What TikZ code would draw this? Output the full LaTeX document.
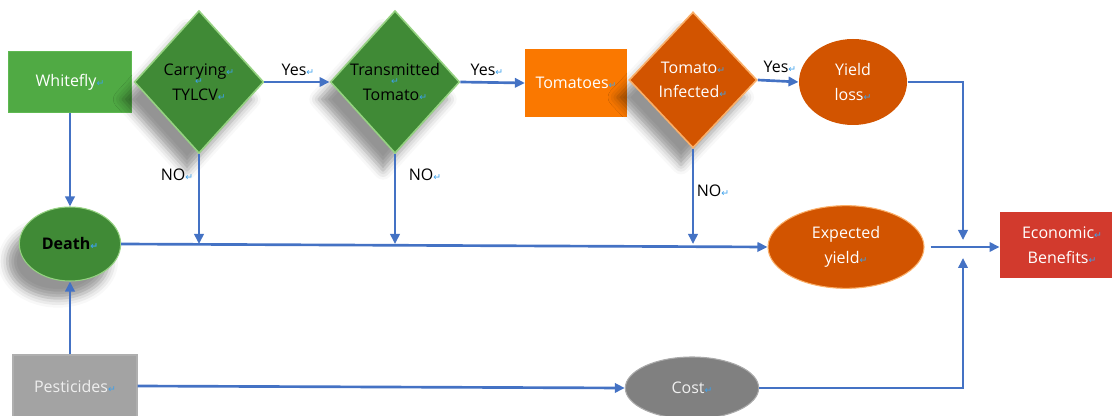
\documentclass[tikz,border=0pt]{standalone}
\usepackage{fontspec}
\setmainfont{Open Sans}
\newfontfamily\markfont{DejaVu Sans}
\usetikzlibrary{shapes.geometric,arrows.meta,shadows.blur}

\definecolor{leafgreen}{RGB}{80,170,68}
\definecolor{darkgreen}{RGB}{64,138,54}
\definecolor{bevelgreen}{RGB}{150,210,130}
\definecolor{brightorange}{RGB}{250,120,0}
\definecolor{burntorange}{RGB}{210,84,0}
\definecolor{bevelorange}{RGB}{250,175,105}
\definecolor{pestgray}{RGB}{163,163,163}
\definecolor{costgray}{RGB}{128,128,128}
\definecolor{benefitred}{RGB}{210,58,45}
\definecolor{linkblue}{RGB}{68,114,196}
\definecolor{markblue}{RGB}{60,160,235}

\newcommand{\pmark}{{\markfont\fontsize{7}{7}\selectfont\color{markblue}↵}}

\tikzset{every picture/.style={line width=0.75pt}}
\tikzset{
  txt/.style={font=\fontsize{12}{18.5}\selectfont, align=center, inner sep=0pt},
  flatbox/.style={txt, rectangle, text=white},
  softshadow/.style={blur shadow={shadow xshift=-9pt, shadow yshift=-13pt, shadow blur radius=7pt, shadow opacity=42}},
  decision/.style={txt, diamond, line width=1.2pt, softshadow},
  oval/.style={txt, ellipse},
  answer/.style={txt, text=black},
  link/.style={draw=linkblue, line width=2pt, -{Triangle[length=7.5pt,width=7pt]}}
}

\begin{document}
\begin{tikzpicture}[x=0.75pt,y=0.75pt,yscale=-1,xscale=1]
\useasboundingbox (0,0) rectangle (1112,416);

%Shape: Rectangle [whitefly]
\draw (70,82) node [flatbox, fill=leafgreen, draw={rgb,255:red,95;green,185;blue,82}, line width=1pt, minimum width=92pt, minimum height=46pt] (whitefly) {Whitefly\pmark};
%Shape: Rectangle [tomatoes]
\draw (576,83) node [flatbox, fill=brightorange, minimum width=76pt, minimum height=51pt] (tomatoes) {Tomatoes\pmark};
%Shape: Diamond [carrying]
\draw (199,82) node [decision, fill=darkgreen, draw=bevelgreen, minimum width=97pt, minimum height=107pt, label={[inner sep=0pt]center:\pmark}] (carry) {Carrying\pmark\\TYLCV\pmark};
%Shape: Diamond [transmitted]
\draw (395,82) node [decision, fill=darkgreen, draw=bevelgreen, minimum width=97pt, minimum height=107pt, label={[inner sep=0pt]center:\pmark}] (trans) {Transmitted\\Tomato\pmark};
%Shape: Diamond [infected]
\draw (693,80) node [decision, fill=burntorange, draw=bevelorange, text=white, minimum width=96pt, minimum height=102pt] (infect) {Tomato\pmark\\Infected\pmark};
%Shape: Ellipse [yield loss]
\draw (853,82) node [oval, fill=burntorange, text=white, minimum width=81pt, minimum height=64.5pt] (loss) {Yield\\loss\pmark};
%Shape: Ellipse [death]
\draw (70,244) node [oval, softshadow, fill=darkgreen, draw=bevelgreen, line width=0.8pt, font=\fontsize{12}{18.5}\selectfont\bfseries, minimum width=76pt, minimum height=55.5pt] (death) {Death\pmark};
%Shape: Ellipse [expected yield]
\draw (846,247) node [oval, fill=burntorange, draw=bevelorange, line width=0.8pt, text=white, minimum width=117pt, minimum height=62pt] (expect) {Expected\\yield\pmark};
%Shape: Rectangle [economic benefits]
\draw (1062,245) node [flatbox, fill=benefitred, minimum width=93pt, minimum height=50pt] (econ) {Economic\pmark\\Benefits\pmark};
%Shape: Rectangle [pesticides]
\draw (75,386) node [flatbox, fill=pestgray, draw={rgb,255:red,175;green,175;blue,175}, line width=1pt, text={rgb,255:red,238;green,238;blue,238}, minimum width=93pt, minimum height=46.5pt] (pest) {Pesticides\pmark};
%Shape: Ellipse [cost]
\draw (692,388) node [oval, fill=costgray, draw={rgb,255:red,170;green,170;blue,170}, line width=0.8pt, text={rgb,255:red,240;green,240;blue,240}, minimum width=100pt, minimum height=46.5pt] (cost) {Cost\pmark};

\coordinate (jtop) at (963,240);
\coordinate (jbot) at (963,258);

%Straight Lines
\draw [link] (carry.east) -- (trans.west);
\draw [link] (trans.east) -- (tomatoes.west);
\draw [link] (infect.east) -- (loss.west);
\draw [link] (whitefly.south) -- (death.north);
\draw [link] (death.south |- pest.north) -- (death.south);
\draw [link] (death.east) -- (expect.west);
\draw [link] (carry.south) -- (carry.south |- death.east);
\draw [link] (trans.south) -- (trans.south |- death.east);
\draw [link] (infect.south) -- (infect.south |- death.east);
\draw [link] (loss.east) -| (jtop);
\draw [link] (cost.east) -| (jbot);
\draw [link, shorten <=4.5pt] (expect.east) -- (expect.east -| econ.west);
\draw [link] (pest.east) -- (cost.west);

% Text Node
\draw (298,70) node [answer] (yes1) {Yes\pmark};
% Text Node
\draw (487,70) node [answer] (yes2) {Yes\pmark};
% Text Node
\draw (780,67) node [answer] (yes3) {Yes\pmark};
% Text Node
\draw (177,175) node [answer] (no1) {NO\pmark};
% Text Node
\draw (425,175) node [answer] (no2) {NO\pmark};
% Text Node
\draw (713,191) node [answer] (no3) {NO\pmark};

\end{tikzpicture}
\end{document}
